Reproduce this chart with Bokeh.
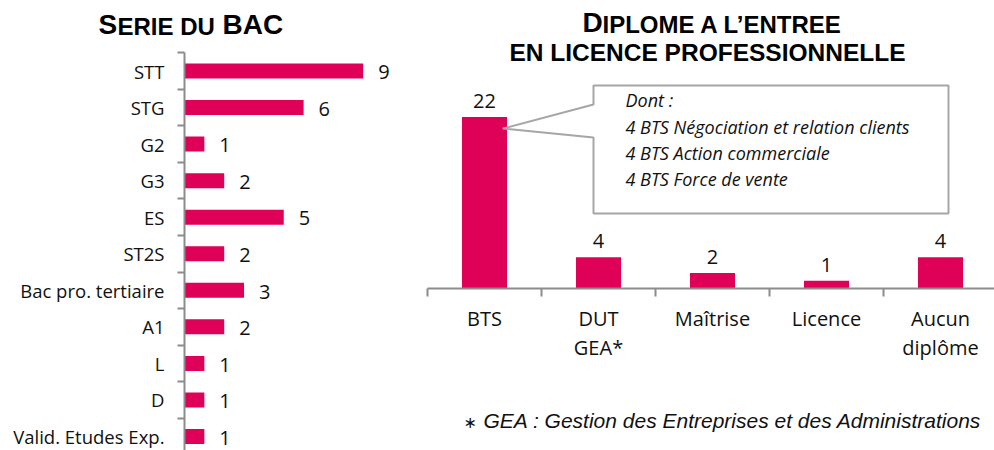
from bokeh.plotting import figure
from bokeh.models import Range1d, FixedTicker, Label, ColumnDataSource
from bokeh.embed import file_html
from bokeh.resources import INLINE
from bokeh.core.properties import value

# ---------------- data ----------------
bac_series = ["STT", "STG", "G2", "G3", "ES", "ST2S", "Bac pro. tertiaire",
              "A1", "L", "D", "Valid. Etudes Exp."]
bac_counts = [9, 6, 1, 2, 5, 2, 3, 2, 1, 1, 1]

diplomas = ["BTS", "DUT\nGEA*", "Maîtrise", "Licence", "Aucun\ndiplôme"]
diploma_counts = [22, 4, 2, 1, 4]

bts_detail = ["Dont :",
              "4 BTS Négociation et relation clients",
              "4 BTS Action commerciale",
              "4 BTS Force de vente"]
footnote_mark = "∗"
footnote_text = "GEA : Gestion des Entreprises et des Administrations"

# ---------------- styles ----------------
BAR = "#DF0058"
AXIS = "#8C8C8C"
BOX = "#A6A6A6"
TEXT = "#111111"
SANS = "Open Sans"
HEAD = "Liberation Sans"
BL = 0.39   # svg alphabetic-baseline correction (fraction of font size)


def base_fig(**kw):
    p = figure(output_backend="svg", toolbar_location=None, **kw)
    p.grid.visible = False
    p.outline_line_color = None
    p.background_fill_color = "white"
    p.border_fill_color = "white"
    return p


# =============== left chart: SERIE DU BAC ===============
LW, LH = 420, 450
L_LEFT, L_TOP = 184, 52
row_px = 36.55
val_px = 19.85
n = len(bac_series)
ypos = [n - 1 - i for i in range(n)]
y_end = (n - 1) + (70.5 - L_TOP) / row_px
y_start = y_end - (LH - L_TOP) / row_px
x_end = (LW - L_LEFT) / val_px

p1 = base_fig(width=LW, height=LH, x_range=Range1d(0, x_end),
              y_range=Range1d(y_start, y_end), x_axis_location=None,
              min_border_left=L_LEFT, min_border_top=L_TOP,
              min_border_bottom=0, min_border_right=0,
              styles={"position": "absolute", "left": "0px", "top": "0px"})

ax = p1.yaxis[0]
ax.ticker = FixedTicker(ticks=ypos, minor_ticks=[y + 0.5 for y in ypos] + [-0.5])
ax.major_label_overrides = {y: s for y, s in zip(ypos, bac_series)}
ax.major_tick_out = 0
ax.major_tick_in = 0
ax.minor_tick_out = 7
ax.minor_tick_in = 0
ax.axis_line_color = AXIS
ax.axis_line_width = 2
ax.minor_tick_line_color = AXIS
ax.minor_tick_line_width = 2
ax.major_label_standoff = 13
ax.major_label_text_font = SANS
ax.major_label_text_font_size = "18.5px"
ax.major_label_text_color = TEXT

src1 = ColumnDataSource(dict(y=ypos, v=bac_counts, t=[str(c) for c in bac_counts]))
p1.hbar(y="y", right="v", left=0, height=0.41, source=src1,
        fill_color=BAR, line_color=None)
p1.text(x="v", y="y", text="t", source=src1, x_offset=15, y_offset=9 - BL * 20,
        text_align="left", text_baseline="alphabetic",
        text_font=value(SANS), text_font_size="20px", text_color=TEXT)

# =============== right chart: DIPLOME ===============
RX = 420
RW, RH = 574, 450
R_LEFT = 7
R_ABS_LEFT = RX + R_LEFT
R_BASE = 288
cat_px = 114
unit_px = 7.8
m = len(diplomas)
xpos = [i + 0.5 for i in range(m)]

p2 = base_fig(width=RW, height=RH, x_range=Range1d(0, (RW - R_LEFT) / cat_px),
              y_range=Range1d(0, R_BASE / unit_px), y_axis_location=None,
              min_border_left=R_LEFT, min_border_right=0, min_border_top=0,
              min_border_bottom=RH - R_BASE,
              styles={"position": "absolute", "left": f"{RX}px", "top": "0px"})

bx = p2.xaxis[0]
bx.ticker = FixedTicker(ticks=xpos, minor_ticks=[float(i) for i in range(m + 1)])
bx.major_label_overrides = {x: s for x, s in zip(xpos, diplomas)}
bx.major_tick_out = 0
bx.major_tick_in = 0
bx.minor_tick_out = 8
bx.minor_tick_in = 0
bx.axis_line_color = AXIS
bx.axis_line_width = 2
bx.minor_tick_line_color = AXIS
bx.minor_tick_line_width = 2
bx.major_label_standoff = 8
bx.major_label_text_font = SANS
bx.major_label_text_font_size = "20px"
bx.major_label_text_color = TEXT
bx.major_label_text_line_height = 1.1


def X(a):
    return (a - R_ABS_LEFT) / cat_px


def Y(b):
    return (R_BASE - b) / unit_px


src2 = ColumnDataSource(dict(x=xpos, v=diploma_counts, t=[str(c) for c in diploma_counts]))
p2.vbar(x="x", top="v", width=0.395, bottom=0, source=src2,
        fill_color=BAR, line_color=None)
p2.text(x="x", y="v", text="t", source=src2, y_offset=-8 - BL * 20,
        text_align="center", text_baseline="alphabetic",
        text_font=value(SANS), text_font_size="20px", text_color=TEXT)

# callout box pointing into the BTS bar
tip_x = xpos[0] + 0.16
tip_y = diploma_counts[0] - 1.5
bl, br, bt, bb = 593, 948, 85, 213
cx = [X(bl), X(br), X(br), X(bl), X(bl), tip_x, X(bl)]
cy = [Y(bt), Y(bt), Y(bb), Y(bb), Y(137), tip_y, Y(104)]
p2.patch(cx, cy, fill_color="white", line_color=BOX, line_width=2)

CS = 18
src3 = ColumnDataSource(dict(x=[X(625)] * len(bts_detail),
                             y=[Y(107 + 26.3 * i - BL * CS) for i in range(len(bts_detail))],
                             t=bts_detail))
p2.text(x="x", y="y", text="t", source=src3, text_align="left",
        text_baseline="alphabetic", text_font=value(SANS),
        text_font_style="italic", text_font_size=f"{CS}px", text_color=TEXT)

# =============== overlay: titles and footnote ===============
W, H = 994, 450
p0 = figure(output_backend="svg", toolbar_location=None, width=W, height=H,
            x_range=Range1d(0, W), y_range=Range1d(H, 0),
            x_axis_location=None, y_axis_location=None,
            min_border_left=0, min_border_right=0, min_border_top=0, min_border_bottom=0,
            styles={"position": "absolute", "left": "0px", "top": "0px"})
p0.grid.visible = False
p0.outline_line_color = None
p0.background_fill_color = None
p0.border_fill_color = None


def lab(txt, x, base, size, font=HEAD, style="bold", align="left", color="black"):
    p0.add_layout(Label(x=x, y=base - BL * size, text=txt, text_font=font,
                        text_font_style=style, text_font_size=f"{size}px",
                        text_color=color, text_baseline="alphabetic", text_align=align))


# "Serie du BAC" in small caps
lab("S", 98, 35, 28)
lab("ERIE DU", 117, 35, 24)
lab("BAC", 222, 35, 28)
# "Diplome a l'entree en licence professionnelle" in small caps
lab("D", 582, 33.3, 28)
lab("IPLOME A L’ENTREE", 602, 33.3, 24)
lab("EN LICENCE PROFESSIONNELLE", 707, 61.7, 24.5, align="center")
# footnote
lab(footnote_mark, 463, 428, 16, font="DejaVu Sans", style="normal", color=TEXT)
lab(footnote_text, 483, 428, 21, style="italic", color=TEXT)

open("out.html", "w").write(file_html([p1, p2, p0], INLINE))
